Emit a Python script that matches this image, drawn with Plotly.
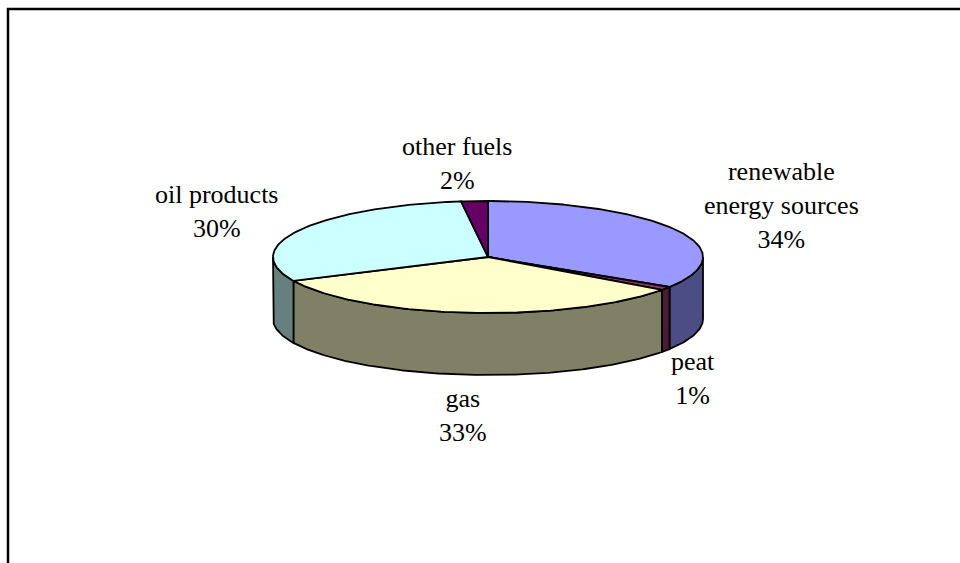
import numpy as np
import plotly.graph_objects as go

# ---- data ----
names = ["renewable<br>energy sources", "peat", "gas", "oil products", "other fuels"]
values = [34, 1, 33, 30, 2]
top_colors = ["#9999FF", "#993366", "#FFFFCC", "#CCFFFF", "#660066"]
side_colors = ["#4D4D85", "#4D1A33", "#808066", "#668080", "#330033"]

# label anchor positions (pixel space) and font
label_pos = [(781, 205), (693, 378), (463, 415), (217, 211), (457, 163)]
FONT = dict(family="Liberation Serif", size=26, color="#000000")

# ---- geometry of the tilted pie (pixel space) ----
CX, CY, RX, RY, DEPTH = 488, 257, 215, 56, 62
N = 120


def arc(a0, a1, dy=0.0):
    t = np.radians(np.linspace(a0, a1, max(3, int(abs(a1 - a0) / 360 * N * 4))))
    return CX + RX * np.sin(t), CY - RY * np.cos(t) + dy


fig = go.Figure()
total = float(sum(values))
bounds = []
acc = 0.0
for v in values:
    a0 = acc / total * 360.0
    acc += v
    a1 = acc / total * 360.0
    bounds.append((a0, a1))

LINE = dict(color="#000000", width=1.8)

# side walls (only the front half is visible)
for (a0, a1), sc in zip(bounds, side_colors):
    s0, s1 = max(a0, 90.0), min(a1, 270.0)
    if s1 <= s0:
        continue
    xt, yt = arc(s0, s1)
    xb, yb = arc(s0, s1, DEPTH)
    xs = np.concatenate([xt, xb[::-1], xt[:1]])
    ys = np.concatenate([yt, yb[::-1], yt[:1]])
    fig.add_trace(go.Scatter(x=xs, y=ys, mode="lines", fill="toself",
                             fillcolor=sc, line=LINE, hoverinfo="skip",
                             showlegend=False))

# top faces
for (a0, a1), tc in zip(bounds, top_colors):
    xt, yt = arc(a0, a1)
    xs = np.concatenate([[CX], xt, [CX]])
    ys = np.concatenate([[CY], yt, [CY]])
    fig.add_trace(go.Scatter(x=xs, y=ys, mode="lines", fill="toself",
                             fillcolor=tc, line=LINE, hoverinfo="skip",
                             showlegend=False))

# labels
for name, v, (lx, ly) in zip(names, values, label_pos):
    fig.add_annotation(x=lx, y=ly, xref="x", yref="y",
                       text=f"{name}<br>{round(v / total * 100)}%",
                       showarrow=False, font=FONT, align="center",
                       xanchor="center", yanchor="middle")

# chart frame (extends beyond right and bottom of view)
fig.add_shape(type="rect", xref="x", yref="y", x0=8, y0=9, x1=1000, y1=600,
              line=dict(color="#000000", width=2.5), layer="above")

fig.update_xaxes(range=[0, 960], visible=False, fixedrange=True)
fig.update_yaxes(range=[563, 0], visible=False, fixedrange=True)
fig.update_layout(width=960, height=563, margin=dict(l=0, r=0, t=0, b=0),
                  paper_bgcolor="#FFFFFF", plot_bgcolor="#FFFFFF",
                  showlegend=False)

fig.write_html("out.html")
